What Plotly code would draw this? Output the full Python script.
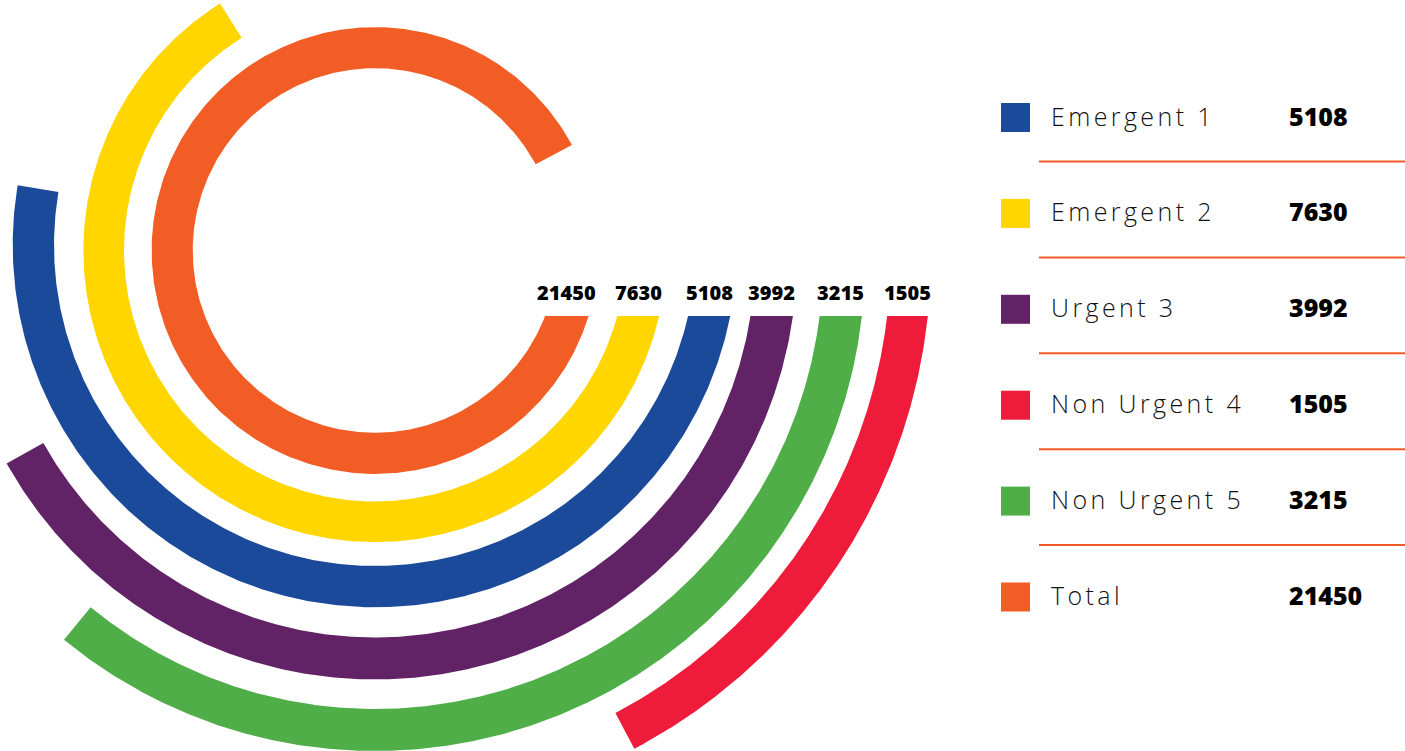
import numpy as np
import plotly.graph_objects as go

# ---------------- data ----------------
categories = ["Emergent 1", "Emergent 2", "Urgent 3", "Non Urgent 4", "Non Urgent 5", "Total"]
values = [5108, 7630, 3992, 1505, 3215, 21450]
# angular sweep end of each arc, degrees clockwise from 3 o'clock
arc_end_deg = [189.5, 237.9, 150.8, 62.2, 129.4, 331.8]
colors = ["#1B4A9A", "#FFD600", "#612266", "#EE1C3A", "#50AE48", "#F25C25"]
# ring order, inner -> outer
ring_order = ["Total", "Emergent 2", "Emergent 1", "Urgent 3", "Non Urgent 5", "Non Urgent 4"]

# ---------------- layout geometry ----------------
W, H = 1405, 751
CX = 375
CUT_Y = 316
ring_cy = [250.5, 250.5, 245, 257.5, 261, 257]
ring_r_in = [182.3, 251, 321, 380, 448, 515.5]
ring_r_out = [223.4, 291.6, 362.3, 422, 490, 556]

NUM_FONT = "Open Sans, DejaVu Sans, sans-serif"
LBL_FONT = "Open Sans, Lato, sans-serif"

fig = go.Figure()
annotations = []
shapes = []

for k, name in enumerate(ring_order):
    i = categories.index(name)
    cy, r0, r1 = ring_cy[k], ring_r_in[k], ring_r_out[k]
    t_end = np.radians(arc_end_deg[i])
    a1 = np.arcsin((CUT_Y - cy) / r1)
    a0 = np.arcsin((CUT_Y - cy) / r0)
    th_o = np.linspace(a1, t_end, 500)
    th_i = np.linspace(t_end, a0, 500)
    xs = np.concatenate([CX + r1 * np.cos(th_o), CX + r0 * np.cos(th_i)])
    ys = np.concatenate([cy + r1 * np.sin(th_o), cy + r0 * np.sin(th_i)])
    fig.add_trace(go.Scatter(
        x=xs, y=ys, mode="lines", fill="toself", fillcolor=colors[i],
        line=dict(width=0, color=colors[i]), name=name, hoverinfo="name",
    ))
    d = CUT_Y - cy
    lx = CX + (np.sqrt(r0 ** 2 - d ** 2) + np.sqrt(r1 ** 2 - d ** 2)) / 2
    annotations.append(dict(
        x=lx, y=292.5, xref="x", yref="y", text=f"{values[i]}", showarrow=False,
        xanchor="center", yanchor="middle",
        font=dict(family=NUM_FONT, size=20, color="#000000", weight=800),
    ))

# ---------------- legend table ----------------
ROW0 = 117.5
ROW_STEP = 95.9
for j, name in enumerate(categories):
    yc = ROW0 + j * ROW_STEP
    shapes.append(dict(type="rect", xref="x", yref="y", x0=1001, x1=1030,
                       y0=yc - 14.5, y1=yc + 14.5, fillcolor=colors[j],
                       line=dict(width=0)))
    annotations.append(dict(
        x=1049, y=yc - 2, xref="x", yref="y",
        text=f"<span style='letter-spacing:3.4px'>{name}</span>",
        showarrow=False, xanchor="left", yanchor="middle",
        font=dict(family=LBL_FONT, size=25, color="#111111", weight=300),
    ))
    annotations.append(dict(
        x=1287, y=yc - 2, xref="x", yref="y", text=f"{values[j]}",
        showarrow=False, xanchor="left", yanchor="middle",
        font=dict(family=NUM_FONT, size=25, color="#000000", weight=800),
    ))
    if j < len(categories) - 1:
        shapes.append(dict(type="line", xref="x", yref="y", x0=1039, x1=1405,
                           y0=yc + 44, y1=yc + 44,
                           line=dict(color="#F05A28", width=2)))

fig.update_layout(
    width=W, height=H,
    margin=dict(l=0, r=0, t=0, b=0),
    paper_bgcolor="white", plot_bgcolor="white",
    showlegend=False,
    xaxis=dict(range=[0, W], visible=False, fixedrange=True),
    yaxis=dict(range=[H, 0], visible=False, fixedrange=True),
    annotations=annotations,
    shapes=shapes,
)

fig.write_html(
    "out.html",
    config={"displayModeBar": False},
    post_script="document.body.style.margin='0';document.body.style.overflow='hidden';",
)
